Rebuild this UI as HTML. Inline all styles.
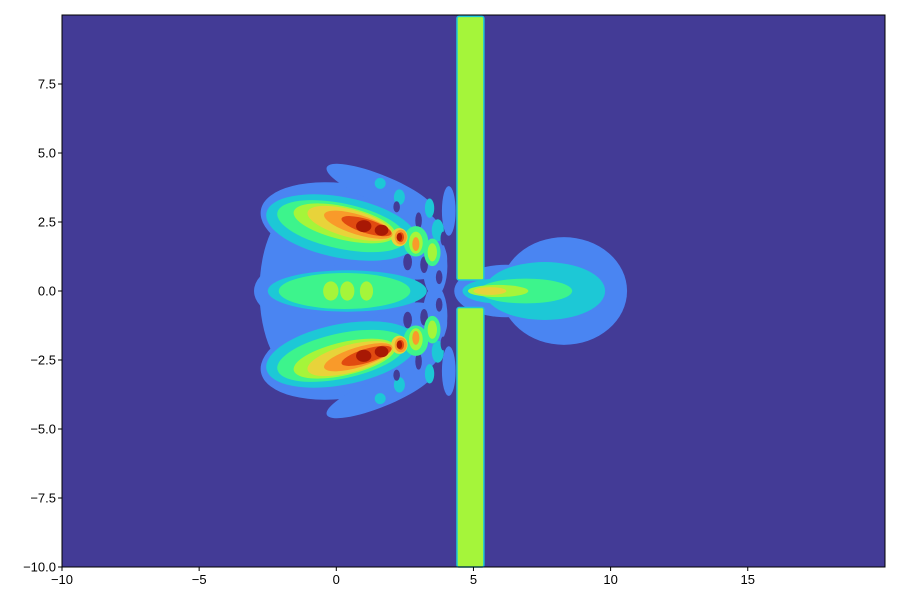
<!DOCTYPE html>
<html><head><meta charset="utf-8"><style>
body{margin:0;background:#fff;}
svg text{font-family:"Liberation Sans",sans-serif;font-size:13px;fill:#000;}
</style></head><body>
<svg id="chart" width="900" height="600" viewBox="0 0 900 600" xmlns="http://www.w3.org/2000/svg">
<defs><clipPath id="clip"><rect x="62" y="15" width="823" height="552"/></clipPath></defs>
<rect x="62" y="15" width="823" height="552" fill="#433b96"/>
<g id="marks" clip-path="url(#clip)"></g>
<g id="slit"></g>
<rect x="62" y="15" width="823" height="552" fill="none" stroke="#000" stroke-width="1"/>
<g id="axes"></g>
</svg>
<script>
const levelColors=["#4a85f2","#1dc8d6","#3df48c","#a5f53a","#e8d33a","#f99a2a","#e04a10","#a81804"];
// blobs: [cx, cy, rx, ry, rotDeg, level, mirror]
const blobs=[
[0.6,2.35,3.4,1.5,-10,0,1],[0.0,0,3.0,1.4,0,0,0],[-1.4,0,1.4,3.0,0,0,0],[1.6,3.7,2.1,0.5,-22,0,1],[2.5,1.5,1.6,1.0,-20,0,1],
[3.6,0.9,0.45,1.1,0,0,1],[8.3,0,2.3,1.95,0,0,0],[6.2,0,1.9,0.95,0,0,0],[4.1,2.9,0.25,0.9,0,0,1],
[0.2,2.3,2.8,1.1,-11,1,1],[0.4,0,2.9,0.75,0,1,0],[7.6,0,2.2,1.05,0,1,0],[5.9,0,1.3,0.45,0,1,0],
[2.3,3.4,0.2,0.28,0,1,1],[1.6,3.9,0.2,0.2,0,1,1],[3.4,3.0,0.17,0.35,0,1,1],[3.7,2.2,0.22,0.4,0,1,1],
[0.2,2.35,2.4,0.82,-12,2,1],[0.3,0,2.4,0.65,0,2,0],[6.9,0,1.7,0.45,0,2,0],[2.9,1.8,0.45,0.55,0,2,1],[3.5,1.4,0.3,0.5,0,2,1],
[0.3,2.45,1.9,0.6,-13,3,1],[-0.2,0,0.28,0.35,0,3,0],[0.4,0,0.26,0.35,0,3,0],[1.1,0,0.24,0.35,0,3,0],[5.9,0,1.1,0.22,0,3,0],[2.9,1.75,0.25,0.4,0,3,1],[3.5,1.4,0.17,0.33,0,3,1],
[0.5,2.45,1.6,0.5,-15,4,1],[5.6,0,0.6,0.14,0,4,0],[2.3,1.95,0.3,0.33,0,4,1],
[0.8,2.4,1.3,0.36,-17,5,1],[2.35,1.95,0.22,0.27,0,5,1],[2.9,1.7,0.13,0.25,0,5,1],
[1.1,2.35,0.95,0.25,-17,6,1],[2.35,1.95,0.12,0.18,0,6,1],
[1.0,2.35,0.28,0.22,0,7,1],[1.65,2.2,0.25,0.2,0,7,1],[2.3,1.95,0.1,0.15,0,7,1]
];
const holes=[[2.6,1.05,0.16,0.3],[3.2,0.95,0.14,0.3],[3.75,0.5,0.12,0.25],[2.2,3.05,0.12,0.2],[3.0,2.55,0.12,0.3],[3.9,1.9,0.1,0.25]];
const xTicks=[-10,-5,0,5,10,15];
const yTicks=[-10,-7.5,-5,-2.5,0,2.5,5,7.5];
const slitX=[4.4,5.38], gapY=[-0.6,0.4];
const X=v=>62+(v+10)*27.43, Y=v=>567-(v+10)*27.6;
const NS="http://www.w3.org/2000/svg";
const mk=(t,a,p)=>{const e=document.createElementNS(NS,t);for(const k in a)e.setAttribute(k,a[k]);p.appendChild(e);return e;};
const g=document.getElementById('marks');
for(let L=0;L<levelColors.length;L++){
 blobs.filter(b=>b[5]===L).forEach(b=>{
  const signs=b[6]?[1,-1]:[1];
  signs.forEach(s=>{
   const cx=X(b[0]),cy=Y(b[1]*s);
   const e=mk('ellipse',{cx:cx,cy:cy,rx:b[2]*27.43,ry:b[3]*27.6,fill:levelColors[L],transform:`rotate(${-b[4]*s} ${cx} ${cy})`},g);
   
   
  });
 });
 if(L===1){holes.forEach(h=>[1,-1].forEach(s=>{
  const e=mk('ellipse',{cx:X(h[0]),cy:Y(h[1]*s),rx:h[2]*27.43,ry:h[3]*27.6,fill:"#433b96"},g);
  
  
 }));}
}
const sg=document.getElementById('slit');
[[gapY[1],9.95],[-10,gapY[0]]].forEach(r=>{
 const e=mk('rect',{x:X(slitX[0]),y:Y(r[1]),width:X(slitX[1])-X(slitX[0]),height:Y(r[0])-Y(r[1]),fill:"#a5f53a",stroke:"#1dc8d6","stroke-width":1.5,rx:2},sg);
 
 
});
const ax=document.getElementById('axes');
xTicks.forEach(v=>{
 const l=mk('line',{x1:X(v),x2:X(v),y1:567,y2:571,stroke:"#000"},ax);
 
 
 const t=mk('text',{x:X(v),y:584,"text-anchor":"middle"},ax);t.textContent=v<0?'\u2212'+(-v):v;
 
 
});
yTicks.forEach(v=>{
 const l=mk('line',{x1:58,x2:62,y1:Y(v),y2:Y(v),stroke:"#000"},ax);
 
 
 const t=mk('text',{x:56,y:Y(v)+4.5,"text-anchor":"end"},ax);t.textContent=(v<0?'\u2212':'')+Math.abs(v).toFixed(1);
 
 
});
</script>
</body></html>
